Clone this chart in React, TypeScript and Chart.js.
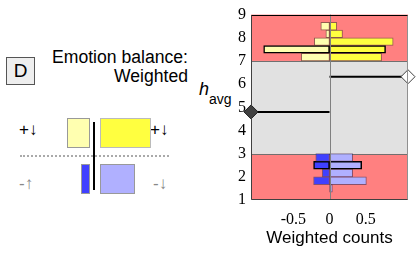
import React, { useEffect, useRef } from 'react';
import { Chart, registerables } from 'chart.js';

Chart.register(...registerables);

// ---- data ----
const HIGH_BINS = [7.167, 7.5, 7.833, 8.167, 8.5];
const HIGH_POS = [0.72, 0.775, 0.88, 0.18, 0.1];
const HIGH_NEG = [-0.39, -0.91, -0.21, -0.05, -0.12];
const LOW_BINS = [1.5, 1.833, 2.167, 2.5, 2.833];
const LOW_POS = [0.04, 0.51, 0.32, 0.445, 0.32];
const LOW_NEG: (number | null)[] = [null, -0.22, -0.1, -0.22, -0.19];
const BOLD_HIGH_BIN = 7.5;
const BOLD_LOW_BIN = 2.5;
const BAND_LIMITS = [1, 3, 7, 9];
const Y_TICKS = [1, 2, 3, 4, 5, 6, 7, 8, 9];
const X_TICKS = [-0.5, 0, 0.5];
const X_MIN = -1.085;
const X_MAX = 1.085;
const NEG_BALANCE_X = [-1.085, 0];
const NEG_BALANCE_H = 4.8;
const POS_BALANCE_X = [0, 1.085];
const POS_BALANCE_H = 6.32;

const BAND_COLORS = ['#ff8080', '#e1e1e1', '#ff8080'];

const framePlugin = {
  id: 'frame',
  beforeDatasetsDraw(chart: any) {
    const { ctx, chartArea: a, scales } = chart;
    const y = scales.y;
    ctx.save();
    for (let i = 0; i < BAND_LIMITS.length - 1; i++) {
      const y0 = y.getPixelForValue(BAND_LIMITS[i + 1]);
      const y1 = y.getPixelForValue(BAND_LIMITS[i]);
      ctx.fillStyle = BAND_COLORS[i];
      ctx.fillRect(a.left, y0, a.right - a.left, y1 - y0);
    }
    ctx.strokeStyle = '#707070';
    ctx.lineWidth = 1;
    for (let i = 1; i < BAND_LIMITS.length - 1; i++) {
      const py = Math.round(y.getPixelForValue(BAND_LIMITS[i])) + 0.5;
      ctx.beginPath();
      ctx.moveTo(a.left, py);
      ctx.lineTo(a.right, py);
      ctx.stroke();
    }
    ctx.restore();
  },
  afterDatasetsDraw(chart: any) {
    const { ctx, chartArea: a, scales } = chart;
    const x0 = Math.round(scales.x.getPixelForValue(0)) + 0.5;
    ctx.save();
    ctx.strokeStyle = '#808080';
    ctx.lineWidth = 1;
    ctx.beginPath();
    ctx.moveTo(x0, a.top);
    ctx.lineTo(x0, a.bottom);
    ctx.stroke();
    const L = Math.round(a.left) + 0.5, R = Math.round(a.right) - 0.5;
    const T = Math.round(a.top) + 0.5, B = Math.round(a.bottom) - 0.5;
    ctx.strokeStyle = '#909090';
    ctx.beginPath();
    ctx.moveTo(R, T);
    ctx.lineTo(R, B);
    ctx.stroke();
    ctx.strokeStyle = '#404040';
    ctx.beginPath();
    ctx.moveTo(L, T);
    ctx.lineTo(L, B);
    ctx.lineTo(R, B);
    ctx.stroke();
    ctx.strokeStyle = '#000';
    ctx.beginPath();
    ctx.moveTo(L, T);
    ctx.lineTo(R, T);
    ctx.stroke();
    ctx.restore();
  },
};

function ChartPanel() {
  const ref = useRef<HTMLCanvasElement | null>(null);
  useEffect(() => {
    if (!ref.current) return;
    const thin = 'rgba(60,60,40,0.55)';
    const thinBlue = 'rgba(40,40,90,0.55)';
    const hiBorder = HIGH_BINS.map((b) => (b === BOLD_HIGH_BIN ? '#000' : thin));
    const hiWidth = HIGH_BINS.map((b) => (b === BOLD_HIGH_BIN ? 1.5 : 1));
    const loBorder = LOW_BINS.map((b) => (b === BOLD_LOW_BIN ? '#000' : thinBlue));
    const loWidth = LOW_BINS.map((b) => (b === BOLD_LOW_BIN ? 1.5 : 1));
    const barCommon = {
      type: 'bar' as const,
      grouped: false,
      barPercentage: 1,
      categoryPercentage: 1,
      borderSkipped: false,
    };
    const chart = new Chart(ref.current, {
      type: 'bar',
      data: {
        datasets: [
          {
            type: 'line',
            data: NEG_BALANCE_X.map((x) => ({ x, y: NEG_BALANCE_H })),
            borderColor: '#000',
            borderWidth: 2,
            pointStyle: 'rectRot',
            pointRadius: [7, 0],
            pointBackgroundColor: '#404040',
            pointBorderColor: '#202020',
            pointBorderWidth: 1,
            clip: false,
          } as any,
          {
            type: 'line',
            data: POS_BALANCE_X.map((x) => ({ x, y: POS_BALANCE_H })),
            borderColor: '#000',
            borderWidth: 2,
            pointStyle: 'rectRot',
            pointRadius: [0, 7],
            pointBackgroundColor: '#ffffff',
            pointBorderColor: '#404040',
            pointBorderWidth: 1,
            clip: false,
          } as any,
          {
            ...barCommon,
            data: HIGH_BINS.map((y, i) => ({ x: HIGH_POS[i], y })),
            backgroundColor: '#ffff40',
            borderColor: hiBorder,
            borderWidth: hiWidth,
          } as any,
          {
            ...barCommon,
            data: HIGH_BINS.map((y, i) => ({ x: HIGH_NEG[i], y })),
            backgroundColor: '#ffffb0',
            borderColor: hiBorder,
            borderWidth: hiWidth,
          } as any,
          {
            ...barCommon,
            data: LOW_BINS.map((y, i) => ({ x: LOW_POS[i], y })),
            backgroundColor: '#b0b0ff',
            borderColor: loBorder,
            borderWidth: loWidth,
          } as any,
          {
            ...barCommon,
            data: LOW_BINS.map((y, i) => ({ x: LOW_NEG[i], y })),
            backgroundColor: '#4040ff',
            borderColor: loBorder,
            borderWidth: loWidth,
          } as any,
        ],
      },
      options: {
        animation: false,
        responsive: true,
        maintainAspectRatio: false,
        indexAxis: 'y',
        layout: { padding: { top: 12, right: 7, left: 0, bottom: 0 } },
        plugins: { legend: { display: false }, tooltip: { enabled: false } },
        scales: {
          x: {
            type: 'linear',
            min: X_MIN,
            max: X_MAX,
            offset: false,
            afterBuildTicks: (s: any) => {
              s.ticks = X_TICKS.map((v) => ({ value: v }));
            },
            afterFit: (s: any) => {
              s.height = 55;
            },
            grid: { display: false, drawTicks: false },
            border: { display: false },
            ticks: {
              autoSkip: false,
              maxRotation: 0,
              color: '#000',
              padding: 10,
              font: { family: 'Liberation Serif', size: 16 },
              callback: (v: any) => String(v),
            },
            title: {
              display: true,
              text: 'Weighted counts',
              color: '#000',
              font: { family: 'Liberation Sans', size: 17 },
              padding: { top: 0, bottom: 6 },
            },
          },
          y: {
            type: 'linear',
            min: 1,
            max: 9,
            offset: false,
            afterBuildTicks: (s: any) => {
              s.ticks = Y_TICKS.map((v) => ({ value: v }));
            },
            afterFit: (s: any) => {
              s.width = 51;
            },
            grid: { display: false, drawTicks: false },
            border: { display: false },
            ticks: {
              autoSkip: false,
              color: '#000',
              padding: 5,
              font: { family: 'Liberation Serif', size: 16 },
              callback: (v: any) => String(v),
            },
          },
        },
      } as any,
      plugins: [framePlugin],
    });
    return () => chart.destroy();
  }, []);
  return (
    <div style={{ position: 'absolute', left: 200, top: 0, width: 216, height: 255 }}>
      <canvas ref={ref} />
    </div>
  );
}

const abs = (s: any) => ({ position: 'absolute' as const, ...s });
const sans = 'Liberation Sans, Arial, sans-serif';

export default function App() {
  return (
    <div style={abs({ left: 0, top: 0, width: 416, height: 255, background: '#fff', overflow: 'hidden' })}>
      <div
        style={abs({
          left: 6, top: 57, width: 27, height: 26, border: '1px solid #555', background: '#eeeeee',
          fontFamily: sans, fontSize: 19, lineHeight: '26px', textAlign: 'center', color: '#000',
        })}
      >
        D
      </div>
      <div
        style={abs({
          right: 228, top: 48, fontFamily: sans, fontSize: 17.6, lineHeight: '19px', textAlign: 'right',
          color: '#000', whiteSpace: 'nowrap',
        })}
      >
        Emotion balance:
        <br />
        Weighted
      </div>
      <div style={abs({ left: 19, top: 120, fontFamily: sans, fontSize: 17, lineHeight: '20px', color: '#000' })}>+↓</div>
      <div style={abs({ left: 150, top: 120, fontFamily: sans, fontSize: 17, lineHeight: '20px', color: '#000' })}>+↓</div>
      <div style={abs({ left: 19, top: 174, fontFamily: sans, fontSize: 17, lineHeight: '20px', color: '#888' })}>-↑</div>
      <div style={abs({ left: 153, top: 174, fontFamily: sans, fontSize: 17, lineHeight: '20px', color: '#888' })}>-↓</div>
      <div style={abs({ left: 67, top: 118, width: 21, height: 28, background: '#ffffb0', border: '1px solid #999' })} />
      <div style={abs({ left: 100, top: 118, width: 49, height: 28, background: '#ffff40', border: '1px solid #bbb' })} />
      <div style={abs({ left: 20, top: 155, width: 149, height: 0, borderTop: '2px dotted #aaa' })} />
      <div style={abs({ left: 81, top: 164, width: 7, height: 28, background: '#4040ff', border: '1px solid #999' })} />
      <div style={abs({ left: 100, top: 164, width: 33, height: 28, background: '#b0b0ff', border: '1px solid #999' })} />
      <div style={abs({ left: 93, top: 122, width: 2, height: 68, background: '#000' })} />
      <div style={abs({ left: 199, top: 79, fontFamily: sans, fontSize: 18, fontStyle: 'italic', lineHeight: '20px', color: '#000' })}>h</div>
      <div style={abs({ left: 209, top: 91, fontFamily: sans, fontSize: 14, lineHeight: '16px', color: '#000' })}>avg</div>
      <ChartPanel />
    </div>
  );
}
